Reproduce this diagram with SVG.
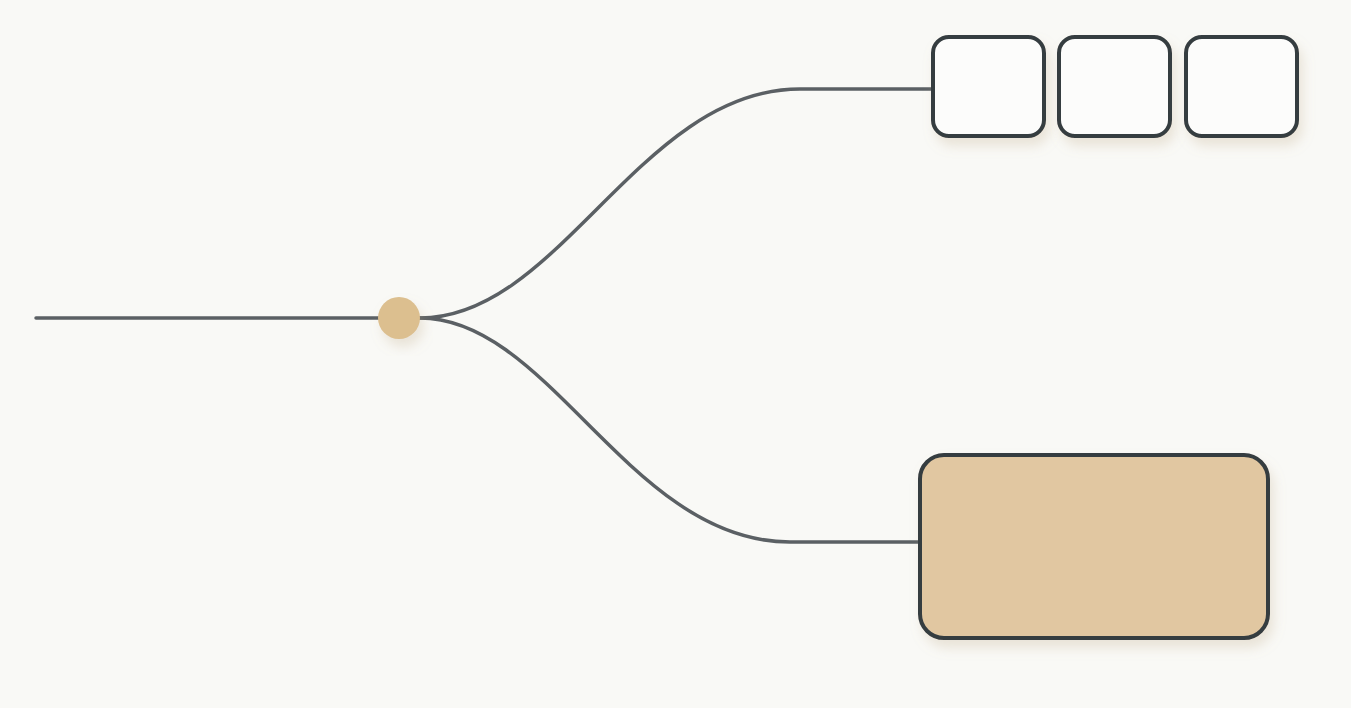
<svg xmlns="http://www.w3.org/2000/svg" width="1351" height="708" viewBox="0 0 1351 708">
<defs>
<filter id="sh" x="-20%" y="-20%" width="150%" height="160%">
<feDropShadow dx="4" dy="8" stdDeviation="6" flood-color="#b8a27a" flood-opacity="0.25"/>
</filter>
<style>
.wire{fill:none;stroke:#5b6064;stroke-width:3.5;stroke-linecap:round}
.box{fill:#fcfcfb;stroke:#363c40;stroke-width:4}
.big{fill:#e1c7a1;stroke:#363c40;stroke-width:4}
</style>
</defs>
<rect width="1351" height="708" fill="#f9f9f6"/>
<g id="connectors">
<path class="wire" d="M36,318 H380"/>
<path class="wire" d="M420,318 C560,318 640,89 800,89 H933"/>
<path class="wire" d="M420,318 C550,318 630,542 790,542 H920"/>
</g>
<g id="junction">
<circle cx="399" cy="318" r="21" fill="#dcbf8f" filter="url(#sh)"/>
</g>
<g id="box1"><rect class="box" x="933" y="37" width="111" height="99" rx="16" filter="url(#sh)"/></g>
<g id="box2"><rect class="box" x="1059" y="37" width="111" height="99" rx="16" filter="url(#sh)"/></g>
<g id="box3"><rect class="box" x="1186" y="37" width="111" height="99" rx="16" filter="url(#sh)"/></g>
<g id="bigbox"><rect class="big" x="920" y="455" width="348" height="183" rx="24" filter="url(#sh)"/></g>
</svg>
